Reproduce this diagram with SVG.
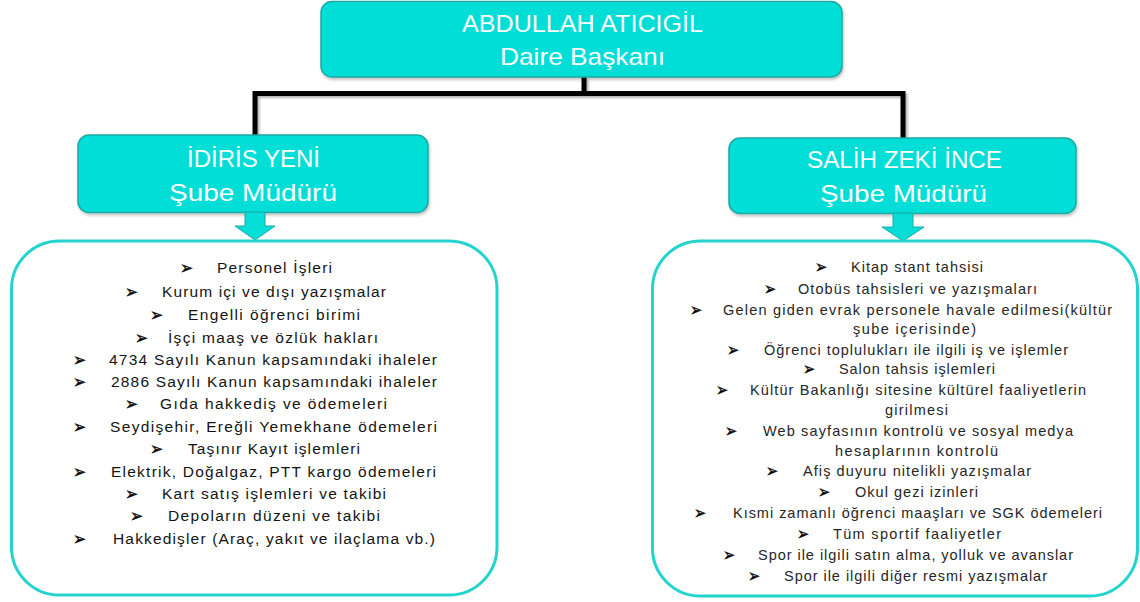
<svg xmlns="http://www.w3.org/2000/svg" width="1140" height="602" viewBox="0 0 1140 602">
  <defs>
    <filter id="sh" x="-5%" y="-10%" width="110%" height="130%">
      <feDropShadow dx="1" dy="2" stdDeviation="1.5" flood-color="#000" flood-opacity="0.25"/>
    </filter>
    <filter id="lsh" x="-5%" y="-50%" width="110%" height="200%">
      <feDropShadow dx="2" dy="2" stdDeviation="1" flood-color="#000" flood-opacity="0.3"/>
    </filter>
  </defs>
  <style>
    .hbox { fill: #04DED7; stroke: #1BA9A4; stroke-width: 1.5; }
    .lbox { fill: #FFFFFF; stroke: #22D3CE; stroke-width: 3; }
    .arrow { fill: #04DED7; stroke: #1BA9A4; stroke-width: 1; }
    .ht { font-family: "Liberation Sans", Arial, sans-serif; font-size: 24px; fill: #FFFFFF; text-anchor: middle; }
    .lt { font-family: "Liberation Sans", Arial, sans-serif; font-size: 15.5px; fill: #141414; }
    .rt { font-family: "Liberation Sans", Arial, sans-serif; font-size: 14.5px; fill: #262626; }
    .bl { font-family: "DejaVu Sans", sans-serif; font-size: 18px; fill: #000000; stroke: #000000; stroke-width: 0.4; }
    .con { fill: none; stroke: #000000; stroke-width: 5; stroke-linejoin: miter; }
  </style>

  <rect width="1140" height="602" fill="#FFFFFF"/>

  <g id="connectors" filter="url(#lsh)">
    <path class="con" d="M584,77 V93.5 M255,135 V93.5 H903 V138"/>
  </g>

  <g id="node-top">
    <rect class="hbox" x="321" y="1.5" width="521" height="75.5" rx="11" filter="url(#sh)"/>
    <text class="ht" x="582.5" y="32" textLength="241" lengthAdjust="spacingAndGlyphs">ABDULLAH ATICIGİL</text>
    <text class="ht" x="582.5" y="65" textLength="165" lengthAdjust="spacingAndGlyphs">Daire Başkanı</text>
  </g>

  <g id="node-left">
    <rect class="hbox" x="78" y="135" width="350" height="77.5" rx="11" filter="url(#sh)"/>
    <text class="ht" x="253.5" y="167" textLength="133" lengthAdjust="spacingAndGlyphs">İDİRİS YENİ</text>
    <text class="ht" x="253" y="201" textLength="168" lengthAdjust="spacingAndGlyphs">Şube Müdürü</text>
  </g>

  <g id="node-right">
    <rect class="hbox" x="729" y="138" width="347" height="75.5" rx="11" filter="url(#sh)"/>
    <text class="ht" x="904.5" y="168" textLength="195" lengthAdjust="spacingAndGlyphs">SALİH ZEKİ İNCE</text>
    <text class="ht" x="903.5" y="202" textLength="167" lengthAdjust="spacingAndGlyphs">Şube Müdürü</text>
  </g>

  <g id="arrow-left">
    <path class="arrow" d="M245,212 H265 V226 H275 L255,240 L235,226 H245 Z"/>
  </g>
  <g id="arrow-right">
    <path class="arrow" d="M893,213 H913 V227 H924 L903,241 L882,227 H893 Z"/>
  </g>

  <g id="list-left">
    <rect class="lbox" x="11.5" y="241" width="485.5" height="354" rx="48"/>
    <text class="bl" x="180" y="274" textLength="13" lengthAdjust="spacingAndGlyphs">➢</text>
    <text class="lt" x="217" y="273" textLength="115" lengthAdjust="spacing">Personel İşleri</text>
    <text class="bl" x="125" y="298" textLength="13" lengthAdjust="spacingAndGlyphs">➢</text>
    <text class="lt" x="162" y="297" textLength="224" lengthAdjust="spacing">Kurum içi ve dışı yazışmalar</text>
    <text class="bl" x="150" y="321" textLength="13" lengthAdjust="spacingAndGlyphs">➢</text>
    <text class="lt" x="188" y="320" textLength="172" lengthAdjust="spacing">Engelli öğrenci birimi</text>
    <text class="bl" x="135" y="344" textLength="13" lengthAdjust="spacingAndGlyphs">➢</text>
    <text class="lt" x="168" y="343" textLength="210" lengthAdjust="spacing">İşçi maaş ve özlük hakları</text>
    <text class="bl" x="73" y="366" textLength="13" lengthAdjust="spacingAndGlyphs">➢</text>
    <text class="lt" x="109" y="365" textLength="328" lengthAdjust="spacing">4734 Sayılı Kanun kapsamındaki ihaleler</text>
    <text class="bl" x="73" y="388" textLength="13" lengthAdjust="spacingAndGlyphs">➢</text>
    <text class="lt" x="111" y="387" textLength="326" lengthAdjust="spacing">2886 Sayılı Kanun kapsamındaki ihaleler</text>
    <text class="bl" x="125" y="410" textLength="13" lengthAdjust="spacingAndGlyphs">➢</text>
    <text class="lt" x="160" y="409" textLength="227" lengthAdjust="spacing">Gıda hakkediş ve ödemeleri</text>
    <text class="bl" x="73" y="433" textLength="13" lengthAdjust="spacingAndGlyphs">➢</text>
    <text class="lt" x="110" y="432" textLength="327" lengthAdjust="spacing">Seydişehir, Ereğli Yemekhane ödemeleri</text>
    <text class="bl" x="150" y="455" textLength="13" lengthAdjust="spacingAndGlyphs">➢</text>
    <text class="lt" x="188" y="454" textLength="172" lengthAdjust="spacing">Taşınır Kayıt işlemleri</text>
    <text class="bl" x="73" y="478" textLength="13" lengthAdjust="spacingAndGlyphs">➢</text>
    <text class="lt" x="111" y="477" textLength="325" lengthAdjust="spacing">Elektrik, Doğalgaz, PTT kargo ödemeleri</text>
    <text class="bl" x="125" y="500" textLength="13" lengthAdjust="spacingAndGlyphs">➢</text>
    <text class="lt" x="162" y="499" textLength="224" lengthAdjust="spacing">Kart satış işlemleri ve takibi</text>
    <text class="bl" x="130" y="522" textLength="13" lengthAdjust="spacingAndGlyphs">➢</text>
    <text class="lt" x="168" y="521" textLength="212" lengthAdjust="spacing">Depoların düzeni ve takibi</text>
    <text class="bl" x="73" y="545" textLength="13" lengthAdjust="spacingAndGlyphs">➢</text>
    <text class="lt" x="113" y="544" textLength="322" lengthAdjust="spacing">Hakkedişler (Araç, yakıt ve ilaçlama vb.)</text>
  </g>

  <g id="list-right">
    <rect class="lbox" x="652.5" y="241" width="485" height="355" rx="48"/>
    <text class="bl" x="815" y="273" textLength="12" lengthAdjust="spacingAndGlyphs">➢</text>
    <text class="rt" x="851" y="272" textLength="132" lengthAdjust="spacing">Kitap stant tahsisi</text>
    <text class="bl" x="764" y="295" textLength="12" lengthAdjust="spacingAndGlyphs">➢</text>
    <text class="rt" x="798" y="294" textLength="239" lengthAdjust="spacing">Otobüs tahsisleri ve yazışmaları</text>
    <text class="bl" x="690" y="316" textLength="12" lengthAdjust="spacingAndGlyphs">➢</text>
    <text class="rt" x="723" y="315" textLength="389" lengthAdjust="spacing">Gelen giden evrak personele havale edilmesi(kültür</text>
    <text class="rt" x="853" y="334" textLength="123" lengthAdjust="spacing">şube içerisinde)</text>
    <text class="bl" x="727" y="356" textLength="12" lengthAdjust="spacingAndGlyphs">➢</text>
    <text class="rt" x="764" y="355" textLength="304" lengthAdjust="spacing">Öğrenci toplulukları ile ilgili iş ve işlemler</text>
    <text class="bl" x="803" y="375" textLength="12" lengthAdjust="spacingAndGlyphs">➢</text>
    <text class="rt" x="839" y="374" textLength="156" lengthAdjust="spacing">Salon tahsis işlemleri</text>
    <text class="bl" x="716" y="396" textLength="12" lengthAdjust="spacingAndGlyphs">➢</text>
    <text class="rt" x="750" y="395" textLength="336" lengthAdjust="spacing">Kültür Bakanlığı sitesine kültürel faaliyetlerin</text>
    <text class="rt" x="885" y="415" textLength="63" lengthAdjust="spacing">girilmesi</text>
    <text class="bl" x="725" y="437" textLength="12" lengthAdjust="spacingAndGlyphs">➢</text>
    <text class="rt" x="763" y="436" textLength="310" lengthAdjust="spacing">Web sayfasının kontrolü ve sosyal medya</text>
    <text class="rt" x="835" y="456" textLength="163" lengthAdjust="spacing">hesaplarının kontrolü</text>
    <text class="bl" x="766" y="477" textLength="12" lengthAdjust="spacingAndGlyphs">➢</text>
    <text class="rt" x="803" y="476" textLength="228" lengthAdjust="spacing">Afiş duyuru nitelikli yazışmalar</text>
    <text class="bl" x="818" y="498" textLength="12" lengthAdjust="spacingAndGlyphs">➢</text>
    <text class="rt" x="855" y="497" textLength="123" lengthAdjust="spacing">Okul gezi izinleri</text>
    <text class="bl" x="694" y="519" textLength="12" lengthAdjust="spacingAndGlyphs">➢</text>
    <text class="rt" x="733" y="518" textLength="369" lengthAdjust="spacing">Kısmi zamanlı öğrenci maaşları ve SGK ödemeleri</text>
    <text class="bl" x="797" y="540" textLength="12" lengthAdjust="spacingAndGlyphs">➢</text>
    <text class="rt" x="833" y="539" textLength="168" lengthAdjust="spacing">Tüm sportif faaliyetler</text>
    <text class="bl" x="723" y="561" textLength="12" lengthAdjust="spacingAndGlyphs">➢</text>
    <text class="rt" x="758" y="560" textLength="315" lengthAdjust="spacing">Spor ile ilgili satın alma, yolluk ve avanslar</text>
    <text class="bl" x="748" y="582" textLength="12" lengthAdjust="spacingAndGlyphs">➢</text>
    <text class="rt" x="784" y="581" textLength="263" lengthAdjust="spacing">Spor ile ilgili diğer resmi yazışmalar</text>
  </g>
</svg>
